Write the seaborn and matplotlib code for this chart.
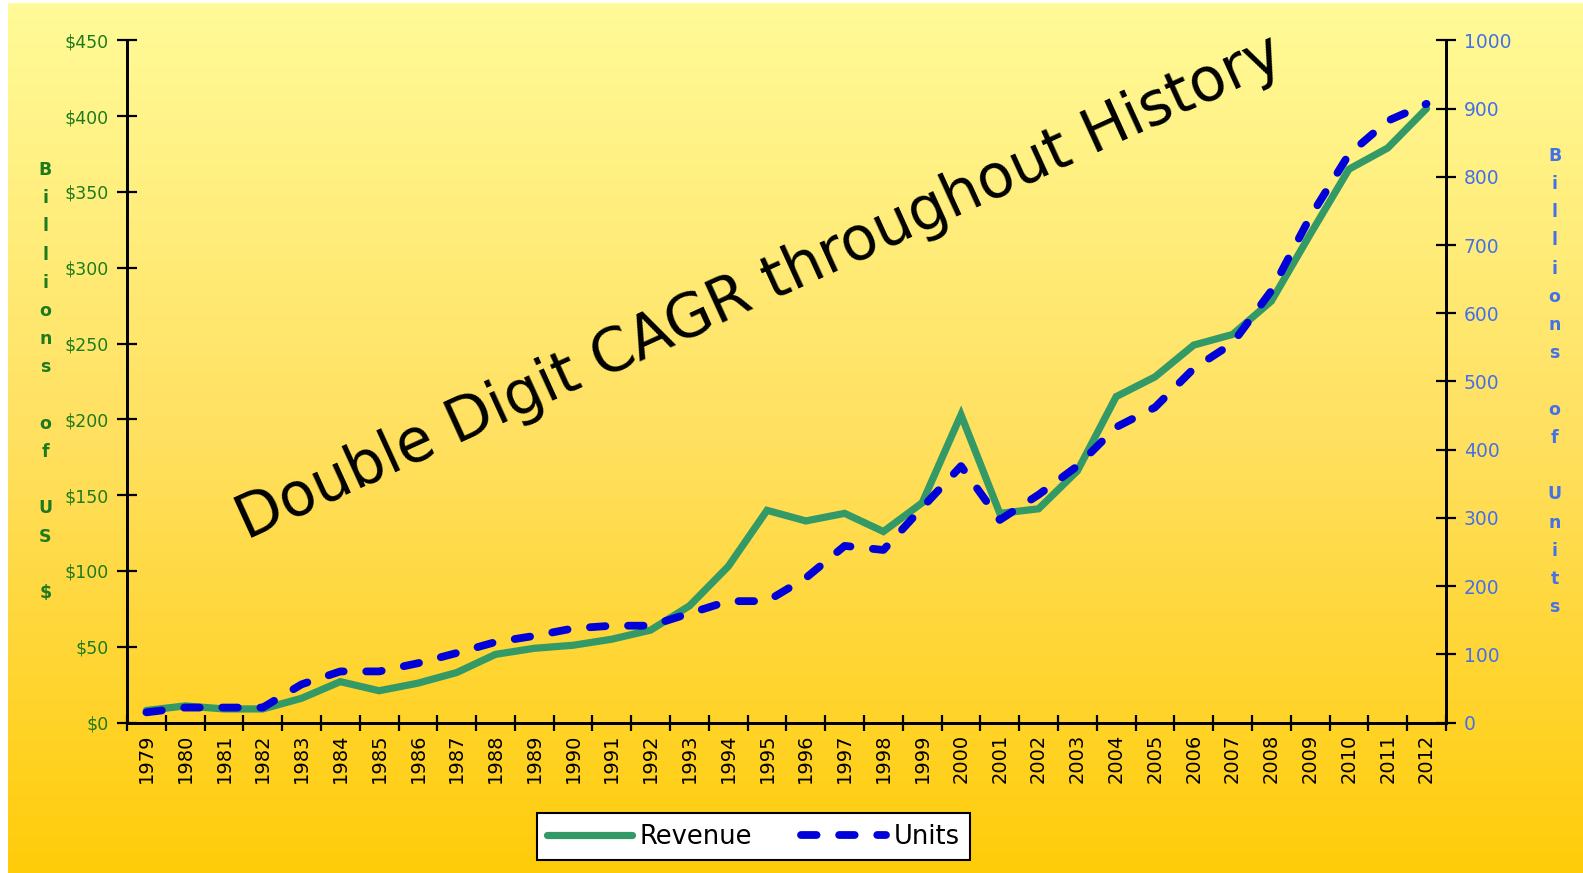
import matplotlib
matplotlib.use("Agg")
import matplotlib.pyplot as plt
import numpy as np
import pandas as pd
import seaborn as sns
from matplotlib.colors import LinearSegmentedColormap
from matplotlib.ticker import FixedLocator

years = list(range(1979, 2013))
revenue = [8, 11, 9, 9, 16, 27, 21, 26, 33, 45, 49, 51, 55, 61, 77, 103, 140, 133,
           138, 126, 145, 203, 138, 141, 166, 215, 228, 249, 256, 278, 322, 365, 379, 405]
units = [15, 22, 22, 22, 56, 75, 75, 87, 102, 118, 127, 138, 142, 142, 160, 178, 178, 212,
         259, 253, 315, 376, 297, 334, 376, 433, 462, 519, 556, 633, 741, 833, 882, 907]
left_ticks = [0, 50, 100, 150, 200, 250, 300, 350, 400, 450]
right_ticks = [0, 100, 200, 300, 400, 500, 600, 700, 800, 900, 1000]

df = pd.DataFrame({"Year": years, "Revenue": revenue, "Units": units})

sns.set_style("ticks")
plt.rcParams["font.family"] = ["DejaVu Sans"]
plt.rcParams["text.color"] = "black"

GREEN = "#339966"
BLUE = "#0000d8"
LEFT_TXT = "#1e7a1e"
RIGHT_TXT = "#4470e8"

fig = plt.figure(figsize=(15.83, 8.73), dpi=100)

# gradient background
bg = fig.add_axes([0.005, 0, 0.995, 0.997], zorder=0)
cmap = LinearSegmentedColormap.from_list("bg", ["#ffcc0a", "#ffe060", "#fffb98"])
bg.imshow(np.linspace(0, 1, 256).reshape(-1, 1), aspect="auto", cmap=cmap,
          origin="lower", extent=[0, 1, 0, 1])
bg.set_axis_off()

ax = fig.add_axes([0.0802, 0.1723, 0.8332, 0.7815], zorder=1)
ax.patch.set_alpha(0)
ax2 = ax.twinx()
ax2.patch.set_alpha(0)

sns.lineplot(data=df, x="Year", y="Revenue", ax=ax, color=GREEN, lw=5.2,
             solid_joinstyle="miter", label="Revenue", legend=False)
sns.lineplot(data=df, x="Year", y="Units", ax=ax2, color=BLUE, lw=5.6,
             dashes=False, label="Units", legend=False)
ax2.lines[0].set_dashes((2.0, 2.9))
ax2.lines[0].set_dash_capstyle("round")

ax.set_xlim(1978.5, 2012.5)
ax.set_ylim(0, 450)
ax2.set_ylim(0, 1000)

ax.set_xticks(years)
ax.set_xticklabels([str(y) for y in years], rotation=90, color="black",
                   family=["Liberation Sans Narrow", "DejaVu Sans"], fontsize=14)
ax.xaxis.set_minor_locator(FixedLocator(np.arange(1978.5, 2013, 1)))
ax.tick_params(axis="x", which="major", length=0, pad=8)
ax.tick_params(axis="x", which="minor", direction="inout", length=12, width=1.6,
               color="black")

ax.set_yticks(left_ticks)
ax.set_yticklabels([f"${v}" for v in left_ticks], color=LEFT_TXT, fontsize=12.5)
ax.tick_params(axis="y", direction="inout", length=14, width=1.6, pad=6, color="black")
ax2.set_yticks(right_ticks)
ax2.set_yticklabels([str(v) for v in right_ticks], color=RIGHT_TXT, fontsize=13.5)
ax2.tick_params(axis="y", direction="inout", length=14, width=1.6, pad=6, color="black")

ax.set_xlabel("")
ax.set_ylabel("")
ax2.set_ylabel("")
for a in (ax, ax2):
    a.spines["top"].set_visible(False)
    for s in ("left", "right", "bottom"):
        a.spines[s].set_linewidth(2)
        a.spines[s].set_color("black")

# stacked axis titles
left_lbl = ["B", "i", "l", "l", "i", "o", "n", "s", "", "o", "f", "", "U", "S", "", "$"]
right_lbl = ["B", "i", "l", "l", "i", "o", "n", "s", "", "o", "f", "", "U", "n", "i", "t", "s"]
fig.text(0.0287, 0.563, "\n".join(left_lbl), ha="center", va="center", color=LEFT_TXT,
         fontsize=12.5, fontweight="bold", linespacing=1.73)
fig.text(0.982, 0.563, "\n".join(right_lbl), ha="center", va="center", color=RIGHT_TXT,
         fontsize=12.5, fontweight="bold", linespacing=1.73)

# big slanted title
fig.text(0.48, 0.67, "Double Digit CAGR throughout History", rotation=24.5,
         rotation_mode="anchor", ha="center", va="center", fontsize=43, color="black")

handles = ax.get_lines() + ax2.get_lines()
leg = fig.legend(handles, ["Revenue", "Units"], loc="center", ncol=2,
                 bbox_to_anchor=(0.476, 0.0415), frameon=True, fancybox=False,
                 framealpha=1, facecolor="white", edgecolor="black",
                 fontsize=18.5, handlelength=3.3, handletextpad=0.3,
                 columnspacing=1.9, borderpad=0.4)
leg.get_frame().set_linewidth(1.5)
for t in leg.get_texts():
    t.set_color("black")

fig.savefig("out.png", dpi=100)
